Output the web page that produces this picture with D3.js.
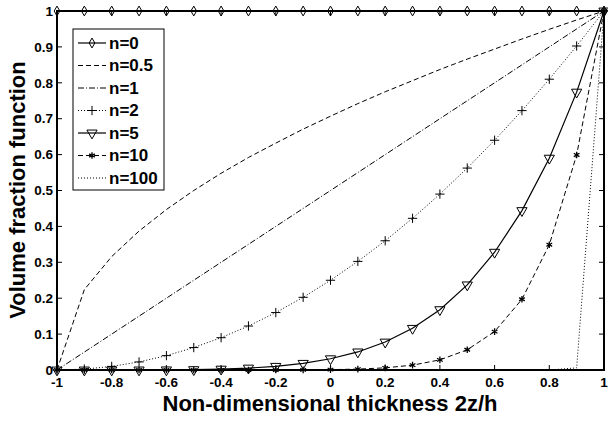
<!DOCTYPE html>
<html>
<head>
<meta charset="utf-8">
<script src="https://cdn.jsdelivr.net/npm/d3@7/dist/d3.min.js"></script>
<style>
  body { margin: 0; background: #fff; }
  text { font-family: Arial, "Liberation Sans", sans-serif; font-weight: bold; }
</style>
</head>
<body>
<svg width="608" height="421" id="mainsvg"></svg>
<script>
// thickness coordinate 2z/h, step 0.1
const xs = [-1, -0.9, -0.8, -0.7, -0.6, -0.5, -0.4, -0.3, -0.2, -0.1, 0,
            0.1, 0.2, 0.3, 0.4, 0.5, 0.6, 0.7, 0.8, 0.9, 1];
const vN0   = [1, 1, 1, 1, 1, 1, 1, 1, 1, 1, 1, 1, 1, 1, 1, 1, 1, 1, 1, 1, 1];
const vN05  = [0, 0.224, 0.316, 0.387, 0.447, 0.5, 0.548, 0.592, 0.632, 0.671, 0.707,
               0.742, 0.775, 0.806, 0.837, 0.866, 0.894, 0.922, 0.949, 0.975, 1];
const vN1   = [0, 0.05, 0.1, 0.15, 0.2, 0.25, 0.3, 0.35, 0.4, 0.45, 0.5,
               0.55, 0.6, 0.65, 0.7, 0.75, 0.8, 0.85, 0.9, 0.95, 1];
const vN2   = [0, 0.0025, 0.01, 0.0225, 0.04, 0.0625, 0.09, 0.1225, 0.16, 0.2025, 0.25,
               0.3025, 0.36, 0.4225, 0.49, 0.5625, 0.64, 0.7225, 0.81, 0.9025, 1];
const vN5   = [0, 0, 0.00001, 0.00008, 0.0003, 0.001, 0.0024, 0.0053, 0.0102, 0.0185, 0.0313,
               0.0503, 0.0778, 0.116, 0.168, 0.237, 0.328, 0.444, 0.590, 0.774, 1];
const vN10  = [0, 0, 0, 0, 0, 0, 0, 0, 0.0001, 0.0003, 0.001,
               0.0025, 0.006, 0.0135, 0.0282, 0.0563, 0.107, 0.197, 0.349, 0.599, 1];
const vN100 = [0, 0, 0, 0, 0, 0, 0, 0, 0, 0, 0,
               0, 0, 0, 0, 0, 0, 0, 0, 0.006, 1];
const xTicks = [-1, -0.8, -0.6, -0.4, -0.2, 0, 0.2, 0.4, 0.6, 0.8, 1];
const yTicks = [0, 0.1, 0.2, 0.3, 0.4, 0.5, 0.6, 0.7, 0.8, 0.9, 1];

const series = [
  { name: 'n=0',   v: vN0,   dash: null,      marker: 'diamond' },
  { name: 'n=0.5', v: vN05,  dash: '5,3',     marker: null },
  { name: 'n=1',   v: vN1,   dash: '6,2,1,2', marker: null },
  { name: 'n=2',   v: vN2,   dash: '1,2',     marker: 'plus' },
  { name: 'n=5',   v: vN5,   dash: null,      marker: 'tri' },
  { name: 'n=10',  v: vN10,  dash: '5,3',     marker: 'star' },
  { name: 'n=100', v: vN100, dash: '1,2',     marker: null }
];

const svg = d3.select('#mainsvg');
const L = 57, R = 604, T = 11, B = 370;
const x = d3.scaleLinear().domain([-1, 1]).range([L, R]);
const y = d3.scaleLinear().domain([0, 1]).range([B, T]);

// inward ticks on all four sides
const tk = 5;
const ticks = svg.append('g').attr('stroke', '#000').attr('stroke-width', 1);
xTicks.forEach(t => {
  ticks.append('line').attr('x1', x(t)).attr('x2', x(t)).attr('y1', B).attr('y2', B - tk);
  ticks.append('line').attr('x1', x(t)).attr('x2', x(t)).attr('y1', T).attr('y2', T + tk);
});
yTicks.forEach(t => {
  ticks.append('line').attr('x1', L).attr('x2', L + tk).attr('y1', y(t)).attr('y2', y(t));
  ticks.append('line').attr('x1', R).attr('x2', R - tk).attr('y1', y(t)).attr('y2', y(t));
});

svg.append('g').selectAll('text').data(xTicks).join('text')
  .attr('x', d => x(d)).attr('y', 387)
  .attr('text-anchor', 'middle').attr('font-size', 13.5)
  .text(d => String(d));
svg.append('g').selectAll('text').data(yTicks).join('text')
  .attr('x', 53).attr('y', d => y(d)).attr('dy', '0.35em')
  .attr('text-anchor', 'end').attr('font-size', 13.5)
  .text(d => String(d));

const line = d3.line().x((d, i) => x(xs[i])).y(d => y(d));

const sym = {
  diamond: d3.symbol().type(d3.symbolDiamond).size(28),
  plus: d3.symbol().type(d3.symbolPlus).size(30),
  tri: d3.symbol().type(d3.symbolTriangle).size(45),
  star: d3.symbol().type(d3.symbolAsterisk).size(30)
};
function drawMarker(g, m, cx, cy) {
  if (!m) return;
  const p = g.append('path').attr('d', sym[m]())
    .attr('fill', m === 'star' ? '#000' : 'none')
    .attr('stroke', '#000').attr('stroke-width', m === 'star' ? 1.3 : 1);
  if (m === 'tri') p.attr('transform', `translate(${cx},${cy}) rotate(180)`);
  else p.attr('transform', `translate(${cx},${cy})`);
}

const plot = svg.append('g');
series.slice().reverse().forEach(s => {
  plot.append('path').datum(s.v)
    .attr('d', line).attr('fill', 'none').attr('stroke', '#000')
    .attr('stroke-width', s.dash ? 1 : 1.2)
    .attr('stroke-dasharray', s.dash);
  if (s.marker) {
    s.v.forEach((v, i) => drawMarker(plot, s.marker, x(xs[i]), y(v)));
  }
});

// axes box
svg.append('rect').attr('x', L).attr('y', T).attr('width', R - L).attr('height', B - T)
  .attr('fill', 'none').attr('stroke', '#000').attr('stroke-width', 2);

// legend
const lg = svg.append('g');
lg.append('rect').attr('x', 73).attr('y', 29).attr('width', 91).attr('height', 161)
  .attr('fill', '#fff').attr('stroke', '#000').attr('stroke-width', 1);
series.forEach((s, i) => {
  const ly = 43 + i * 22.5;
  lg.append('line').attr('x1', 78).attr('x2', 106).attr('y1', ly).attr('y2', ly)
    .attr('stroke', '#000').attr('stroke-width', s.dash ? 1 : 1.2)
    .attr('stroke-dasharray', s.dash);
  drawMarker(lg, s.marker, 92, ly);
  lg.append('text').attr('x', 109).attr('y', ly).attr('dy', '0.35em')
    .attr('font-size', 17).text(s.name);
});

// axis titles
svg.append('text').attr('x', 330).attr('y', 411).attr('text-anchor', 'middle')
  .attr('font-size', 22).text('Non-dimensional thickness 2z/h');
svg.append('text').attr('transform', 'translate(25,190) rotate(-90)')
  .attr('text-anchor', 'middle').attr('font-size', 22).text('Volume fraction function');
</script>
</body>
</html>
